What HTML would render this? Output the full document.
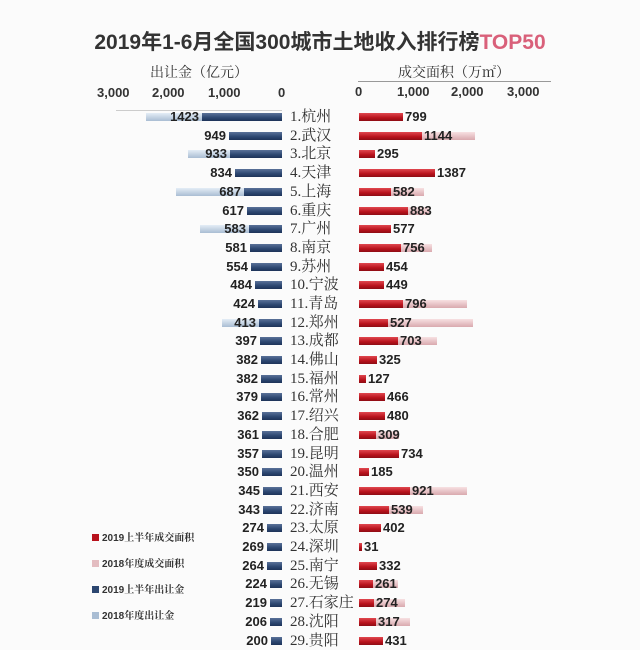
<!DOCTYPE html><html><head><meta charset="utf-8"><style>
body{margin:0;width:640px;height:639px;overflow:hidden;background:#fbfbfb;font-family:"Liberation Sans","Noto Sans CJK SC",sans-serif;position:relative}
.a{position:absolute}
.r{position:absolute;left:0;width:640px;height:18px}
.r i{position:absolute;top:5px;height:8px;display:block}
.d{right:358px;background:linear-gradient(#5a7299,#2c4670 60%,#1e3358)}
.l{right:358px;background:linear-gradient(#e4edf6,#a9bdd3)}
.e{left:359px;background:linear-gradient(#e0474f,#b8121c 60%,#8e0c14)}
.p{left:359px;background:linear-gradient(#f7e0e2,#d9a9ae)}
.r b{position:absolute;top:1px;font-size:13px;color:#222;line-height:16px}
.r span{position:absolute;left:290px;top:0;font-family:"Liberation Serif","Noto Serif CJK SC",serif;font-size:15px;color:#333;line-height:18px}
.t{font-size:13px;font-weight:bold;color:#333}
.lg{position:absolute;left:92px;font-size:10px;font-weight:bold;color:#333;font-family:"Liberation Sans","Noto Serif CJK SC",serif}
.lg i{display:inline-block;width:7px;height:7px;margin-right:3px}
</style></head><body>
<div class="a" style="left:0;top:26px;width:640px;text-align:center;font-size:21px;font-weight:bold;color:#333">2019年1-6月全国300城市土地收入排行榜<span style="color:#d9607a">TOP50</span></div>
<div class="a" style="left:150px;top:62px;font-size:14px;color:#333;font-family:'Liberation Serif','Noto Serif CJK SC',serif">出让金（亿元）</div>
<div class="a" style="left:398px;top:62px;font-size:14px;color:#333;font-family:'Liberation Serif','Noto Serif CJK SC',serif">成交面积（万㎡）</div>
<div class="a" style="left:358px;top:81px;width:193px;height:1px;background:#999"></div>
<div class="a" style="left:116px;top:110px;width:166px;height:1px;background:#ccc"></div>
<div class="a t" style="left:97px;top:85px">3,000</div>
<div class="a t" style="left:152px;top:85px">2,000</div>
<div class="a t" style="left:208px;top:85px">1,000</div>
<div class="a t" style="left:278px;top:85px">0</div>
<div class="a t" style="left:355px;top:84px">0</div>
<div class="a t" style="left:397px;top:84px">1,000</div>
<div class="a t" style="left:451px;top:84px">2,000</div>
<div class="a t" style="left:507px;top:84px">3,000</div>

<div class="r" style="top:108px"><i class="l" style="width:136px"></i><i class="d" style="width:80px"></i><b style="right:441px">1423</b><span>1.杭州</span><i class="e" style="width:44px"></i><b style="left:405px">799</b></div>
<div class="r" style="top:127px"><i class="d" style="width:53px"></i><b style="right:414px">949</b><span>2.武汉</span><i class="p" style="width:116px"></i><i class="e" style="width:63px"></i><b style="left:424px">1144</b></div>
<div class="r" style="top:145px"><i class="l" style="width:94px"></i><i class="d" style="width:52px"></i><b style="right:413px">933</b><span>3.北京</span><i class="e" style="width:16px"></i><b style="left:377px">295</b></div>
<div class="r" style="top:164px"><i class="d" style="width:47px"></i><b style="right:408px">834</b><span>4.天津</span><i class="e" style="width:76px"></i><b style="left:437px">1387</b></div>
<div class="r" style="top:183px"><i class="l" style="width:106px"></i><i class="d" style="width:38px"></i><b style="right:399px">687</b><span>5.上海</span><i class="p" style="width:65px"></i><i class="e" style="width:32px"></i><b style="left:393px">582</b></div>
<div class="r" style="top:202px"><i class="d" style="width:35px"></i><b style="right:396px">617</b><span>6.重庆</span><i class="p" style="width:70px"></i><i class="e" style="width:49px"></i><b style="left:410px">883</b></div>
<div class="r" style="top:220px"><i class="l" style="width:82px"></i><i class="d" style="width:33px"></i><b style="right:394px">583</b><span>7.广州</span><i class="e" style="width:32px"></i><b style="left:393px">577</b></div>
<div class="r" style="top:239px"><i class="d" style="width:32px"></i><b style="right:393px">581</b><span>8.南京</span><i class="p" style="width:73px"></i><i class="e" style="width:42px"></i><b style="left:403px">756</b></div>
<div class="r" style="top:258px"><i class="d" style="width:31px"></i><b style="right:392px">554</b><span>9.苏州</span><i class="e" style="width:25px"></i><b style="left:386px">454</b></div>
<div class="r" style="top:276px"><i class="d" style="width:27px"></i><b style="right:388px">484</b><span>10.宁波</span><i class="e" style="width:25px"></i><b style="left:386px">449</b></div>
<div class="r" style="top:295px"><i class="d" style="width:24px"></i><b style="right:385px">424</b><span>11.青岛</span><i class="p" style="width:108px"></i><i class="e" style="width:44px"></i><b style="left:405px">796</b></div>
<div class="r" style="top:314px"><i class="l" style="width:60px"></i><i class="d" style="width:23px"></i><b style="right:384px">413</b><span>12.郑州</span><i class="p" style="width:114px"></i><i class="e" style="width:29px"></i><b style="left:390px">527</b></div>
<div class="r" style="top:332px"><i class="d" style="width:22px"></i><b style="right:383px">397</b><span>13.成都</span><i class="p" style="width:78px"></i><i class="e" style="width:39px"></i><b style="left:400px">703</b></div>
<div class="r" style="top:351px"><i class="d" style="width:21px"></i><b style="right:382px">382</b><span>14.佛山</span><i class="e" style="width:18px"></i><b style="left:379px">325</b></div>
<div class="r" style="top:370px"><i class="d" style="width:21px"></i><b style="right:382px">382</b><span>15.福州</span><i class="e" style="width:7px"></i><b style="left:368px">127</b></div>
<div class="r" style="top:388px"><i class="d" style="width:21px"></i><b style="right:382px">379</b><span>16.常州</span><i class="e" style="width:26px"></i><b style="left:387px">466</b></div>
<div class="r" style="top:407px"><i class="d" style="width:20px"></i><b style="right:381px">362</b><span>17.绍兴</span><i class="e" style="width:26px"></i><b style="left:387px">480</b></div>
<div class="r" style="top:426px"><i class="d" style="width:20px"></i><b style="right:381px">361</b><span>18.合肥</span><i class="p" style="width:40px"></i><i class="e" style="width:17px"></i><b style="left:378px">309</b></div>
<div class="r" style="top:445px"><i class="d" style="width:20px"></i><b style="right:381px">357</b><span>19.昆明</span><i class="e" style="width:40px"></i><b style="left:401px">734</b></div>
<div class="r" style="top:463px"><i class="d" style="width:20px"></i><b style="right:381px">350</b><span>20.温州</span><i class="e" style="width:10px"></i><b style="left:371px">185</b></div>
<div class="r" style="top:482px"><i class="d" style="width:19px"></i><b style="right:380px">345</b><span>21.西安</span><i class="p" style="width:108px"></i><i class="e" style="width:51px"></i><b style="left:412px">921</b></div>
<div class="r" style="top:501px"><i class="d" style="width:19px"></i><b style="right:380px">343</b><span>22.济南</span><i class="p" style="width:64px"></i><i class="e" style="width:30px"></i><b style="left:391px">539</b></div>
<div class="r" style="top:519px"><i class="d" style="width:15px"></i><b style="right:376px">274</b><span>23.太原</span><i class="e" style="width:22px"></i><b style="left:383px">402</b></div>
<div class="r" style="top:538px"><i class="d" style="width:15px"></i><b style="right:376px">269</b><span>24.深圳</span><i class="e" style="width:3px"></i><b style="left:364px">31</b></div>
<div class="r" style="top:557px"><i class="d" style="width:15px"></i><b style="right:376px">264</b><span>25.南宁</span><i class="e" style="width:18px"></i><b style="left:379px">332</b></div>
<div class="r" style="top:575px"><i class="d" style="width:12px"></i><b style="right:373px">224</b><span>26.无锡</span><i class="p" style="width:39px"></i><i class="e" style="width:14px"></i><b style="left:375px">261</b></div>
<div class="r" style="top:594px"><i class="d" style="width:12px"></i><b style="right:373px">219</b><span>27.石家庄</span><i class="p" style="width:46px"></i><i class="e" style="width:15px"></i><b style="left:376px">274</b></div>
<div class="r" style="top:613px"><i class="d" style="width:12px"></i><b style="right:373px">206</b><span>28.沈阳</span><i class="p" style="width:51px"></i><i class="e" style="width:17px"></i><b style="left:378px">317</b></div>
<div class="r" style="top:632px"><i class="d" style="width:11px"></i><b style="right:372px">200</b><span>29.贵阳</span><i class="e" style="width:24px"></i><b style="left:385px">431</b></div>

<div class="lg" style="top:529px"><i style="background:#b8121c"></i>2019上半年成交面积</div>
<div class="lg" style="top:555px"><i style="background:#e3bcc0"></i>2018年度成交面积</div>
<div class="lg" style="top:581px"><i style="background:#2c4670"></i>2019上半年出让金</div>
<div class="lg" style="top:607px"><i style="background:#a9bdd3"></i>2018年度出让金</div>
</body></html>
